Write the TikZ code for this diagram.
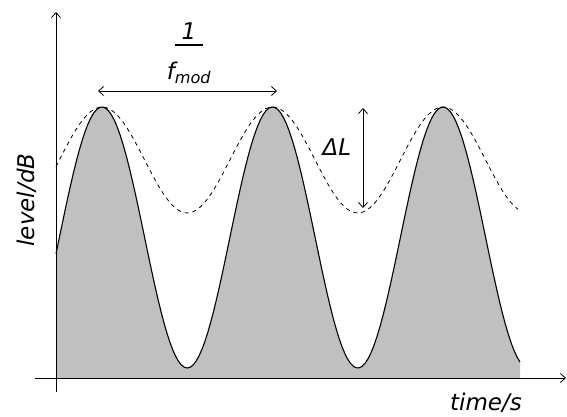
\documentclass[tikz,border=0pt]{standalone}
\usepackage{fontspec}
\setmainfont{DejaVu Sans}
\usetikzlibrary{arrows.meta}
\definecolor{hill}{HTML}{C0C0C0}

\begin{document}
\begin{tikzpicture}[x=1pt, y=-1pt, font=\fontsize{23}{26}\selectfont\itshape,
  declare function={lev(\t)=(1+cos((\t-102)*2.11144))/2;},
  lbl/.style={inner sep=0pt, align=center},
  arr/.style={{Straight Barb[length=5pt,width=9pt]}-{Straight Barb[length=5pt,width=9pt]}, line width=0.8pt},
  axis/.style={-{Straight Barb[length=5pt,width=9pt]}, line width=0.8pt},
  wave/.style={line width=1.1pt},
  env/.style={dash pattern=on 4pt off 4pt, line width=0.8pt}]
\useasboundingbox (0,0) rectangle (567,416);
% shaded level curve
\fill[hill] (56,378) -- plot[domain=56:520, samples=160] (\x, {368-261*lev(\x)}) -- (520,378) -- cycle;
\draw[wave] plot[domain=56:520, samples=160] (\x, {368-261*lev(\x)});
\draw[env] plot[domain=56:518, samples=120] (\x, {213-106*lev(\x)});
% axes
\coordinate (ybot) at (56,392);
\coordinate (ytop) at (56,12);
\coordinate (xleft) at (35,378);
\coordinate (xright) at (566,378);
\draw[axis] (ybot) -- (ytop);
\draw[axis] (xleft) -- (xright);
\node[lbl, rotate=90] (ylab) at (27,200) {level/dB};
\node[lbl] (xlab) at (486,403) {time/s};
% period and depth
\coordinate (peakA) at (98,91);
\coordinate (peakB) at (277,91);
\draw[arr] (peakA) -- (peakB);
\node[lbl] (period) at (189,53) {1\\[-19pt]\rule{28pt}{2.5pt}\\[7pt]f\textsubscript{mod}};
\coordinate (depthtop) at (363,108);
\coordinate (depthbot) at (363,208);
\draw[arr] (depthtop) -- (depthbot);
\node[lbl] (depth) at (337,147) {ΔL};
\end{tikzpicture}
\end{document}
